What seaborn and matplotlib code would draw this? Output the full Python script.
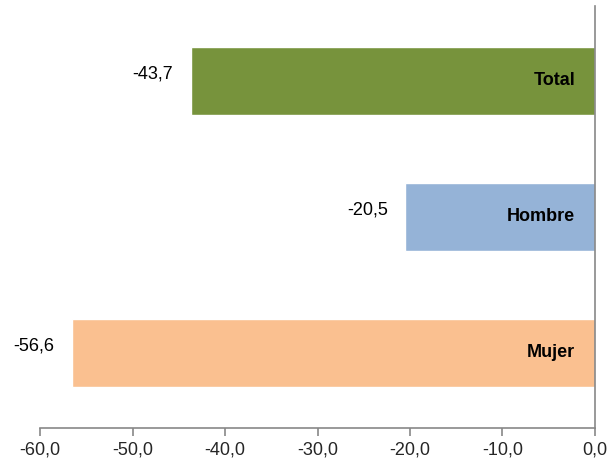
import matplotlib
matplotlib.use("Agg")
import matplotlib.pyplot as plt
import seaborn as sns
import pandas as pd
from matplotlib import font_manager

# Data
categories = ["Total", "Hombre", "Mujer"]
values = [-43.7, -20.5, -56.6]
colors = ["#77933C", "#95B3D7", "#FAC090"]

sns.set_theme(style="white")
names = {f.name for f in font_manager.fontManager.ttflist}
family = "Liberation Sans Narrow" if "Liberation Sans Narrow" in names else "Liberation Sans"
plt.rcParams["font.family"] = [family, "DejaVu Sans"]

df = pd.DataFrame({"cat": categories, "val": values})

fig, ax = plt.subplots(figsize=(6.10, 4.61), dpi=100)
fig.subplots_adjust(left=0.066, right=0.975, top=0.987, bottom=0.072)

sns.barplot(data=df, y="cat", x="val", hue="cat", palette=colors,
            orient="h", width=0.5, legend=False, ax=ax, saturation=1)

ax.set_xlim(-60, 0)
ax.set_ylim(2.55, -0.55)
ax.set_xticks(range(-60, 1, 10))
ax.set_xticklabels([f"{t:.1f}".replace(".", ",") for t in range(-60, 1, 10)],
                   fontsize=13)
ax.set_yticks([])
ax.set_xlabel("")
ax.set_ylabel("")

for side in ["top", "left"]:
    ax.spines[side].set_visible(False)
for side in ["bottom", "right"]:
    ax.spines[side].set_color("#878787")
    ax.spines[side].set_linewidth(1.2)
ax.tick_params(axis="x", direction="out", length=6, width=1.2,
               color="#878787", pad=4, bottom=True)

for i, (c, v) in enumerate(zip(categories, values)):
    ax.text(v - 1.9, i - 0.05, f"{v:.1f}".replace(".", ","),
            ha="right", va="center", fontsize=13, color="black")
    ax.text(-2.1, i, c, ha="right", va="center", fontsize=13,
            fontweight="bold", color="black")

fig.savefig("out.png", dpi=100)
